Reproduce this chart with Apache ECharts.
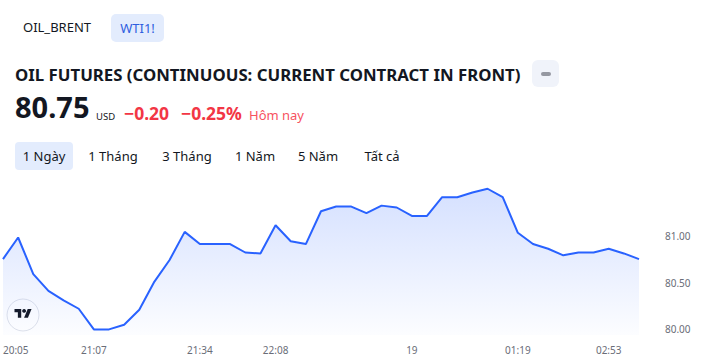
<!DOCTYPE html>
<html>
<head>
<meta charset="utf-8">
<script src="https://cdn.jsdelivr.net/npm/echarts@6/dist/echarts.min.js"></script>
<style>
html,body{margin:0;padding:0;background:#fff;}
#chart{width:701px;height:361px;}
</style>
</head>
<body>
<div id="chart"></div>
<script>
// ---- data ----
const prices = [80.75, 80.98, 80.59, 80.41, 80.31, 80.22, 80.00, 80.00, 80.05, 80.21,
  80.51, 80.74, 81.04, 80.91, 80.91, 80.91, 80.82, 80.81, 81.11, 80.94,
  80.91, 81.26, 81.31, 81.31, 81.24, 81.32, 81.30, 81.21, 81.21, 81.41,
  81.41, 81.46, 81.50, 81.41, 81.03, 80.91, 80.86, 80.79, 80.82, 80.82,
  80.86, 80.81, 80.75];
const tickIndex = [0, 6, 13, 18, 27, 34, 40];
const tickLabels = ['20:05', '21:07', '21:34', '22:08', '19', '01:19', '02:53'];
const yTicks = [80, 80.5, 81];
const tabs = ['OIL_BRENT', 'WTI1!'];
const ranges = ['1 Ngày', '1 Tháng', '3 Tháng', '1 Năm', '5 Năm', 'Tất cả'];
const title = 'OIL FUTURES (CONTINUOUS: CURRENT CONTRACT IN FRONT)';
const lastPrice = '80.75';
const currency = 'USD';
const change = '\u22120.20';
const changePct = '\u22120.25%';
const periodLabel = 'Hôm nay';

// categories built from tick labels
const categories = prices.map((_, i) => {
  const k = tickIndex.indexOf(i);
  return k >= 0 ? tickLabels[k] : '';
});

const FONT = '"Noto Sans", "Open Sans", sans-serif';
const DARK = '#131722';
const RED = '#f23645';

const rangeX = [44, 113, 187, 255, 318, 382];

const graphics = [
  // tabs
  {type:'text', left:23, top:20, style:{text:tabs[0], font:'13px ' + FONT, fill:DARK}},
  {type:'rect', shape:{x:111, y:14, width:53, height:28, r:5}, style:{fill:'#e3ecfd'}},
  {type:'text', x:137.5, y:28, style:{text:tabs[1], font:'13px ' + FONT, fill:'#2f5fe0', align:'center', verticalAlign:'middle'}},
  // title
  {type:'text', x:15, y:74, style:{text:title, font:'bold 16.8px ' + FONT, fill:DARK, verticalAlign:'middle'}},
  // minus button
  {type:'rect', shape:{x:532, y:60, width:27, height:27, r:6}, style:{fill:'#f0f3fa'}},
  {type:'rect', shape:{x:541, y:72, width:10, height:4, r:2}, style:{fill:'#9598a1'}},
  // price line
  {type:'text', x:15, y:121, style:{text:lastPrice, font:'bold 29px ' + FONT, fill:DARK, verticalAlign:'bottom'}},
  {type:'text', x:96, y:121, style:{text:currency, font:'9.5px ' + FONT, fill:DARK, verticalAlign:'bottom'}},
  {type:'text', x:124, y:122, style:{text:change, font:'bold 17.5px ' + FONT, fill:RED, verticalAlign:'bottom'}},
  {type:'text', x:181, y:122, style:{text:changePct, font:'bold 17.5px ' + FONT, fill:RED, verticalAlign:'bottom'}},
  {type:'text', x:249, y:121, style:{text:periodLabel, font:'13px ' + FONT, fill:'#f7525f', verticalAlign:'bottom'}},
  // range buttons
  {type:'rect', shape:{x:15, y:142, width:58, height:28, r:4}, style:{fill:'#e3ecfd'}},
  // logo
  {type:'circle', shape:{cx:23, cy:315, r:16}, style:{fill:'#ffffff', stroke:'#e0e3eb', lineWidth:1}},
  {type:'group', x:14.5, y:309, scaleX:0.48, scaleY:0.48, children:[
    {type:'polygon', shape:{points:[[0,0],[14,0],[14,18],[7,18],[7,7],[0,7]]}, style:{fill:DARK}},
    {type:'circle', shape:{cx:20, cy:4, r:4}, style:{fill:DARK}},
    {type:'polygon', shape:{points:[[27.5,0],[35.5,0],[28,18],[20,18]]}, style:{fill:DARK}}
  ]}
];
ranges.forEach((r, i) => {
  graphics.push({type:'text', x:rangeX[i], y:156, style:{text:r, font:'13px ' + FONT, fill:DARK, align:'center', verticalAlign:'middle'}});
});

const chart = echarts.init(document.getElementById('chart'), null, {renderer:'svg'});
chart.setOption({
  animation:false,
  backgroundColor:'#ffffff',
  grid:{left:2.3, right:62, top:185, bottom:26},
  xAxis:{
    type:'category', data:categories, boundaryGap:false,
    axisLine:{show:false}, axisTick:{show:false}, splitLine:{show:false},
    axisLabel:{
      interval:(idx, val) => val !== '',
      color:'#6a6d78', fontSize:10, fontFamily:FONT, margin:10,
      alignMinLabel:'left'
    }
  },
  yAxis:{
    type:'value', position:'right', min:79.94, max:81.54,
    axisLine:{show:false}, axisTick:{show:false}, splitLine:{show:false},
    axisLabel:{
      customValues:yTicks,
      formatter:v => v.toFixed(2),
      color:'#6a6d78', fontSize:10, fontFamily:FONT, margin:26
    }
  },
  series:[{
    type:'line', data:prices, symbol:'none', smooth:false,
    lineStyle:{color:'#2962ff', width:2},
    areaStyle:{
      origin:'start',
      color:new echarts.graphic.LinearGradient(0,0,0,1,[
        {offset:0, color:'rgba(41,98,255,0.28)'},
        {offset:1, color:'rgba(41,98,255,0.02)'}
      ])
    }
  }],
  graphic:graphics
});
</script>
</body>
</html>
